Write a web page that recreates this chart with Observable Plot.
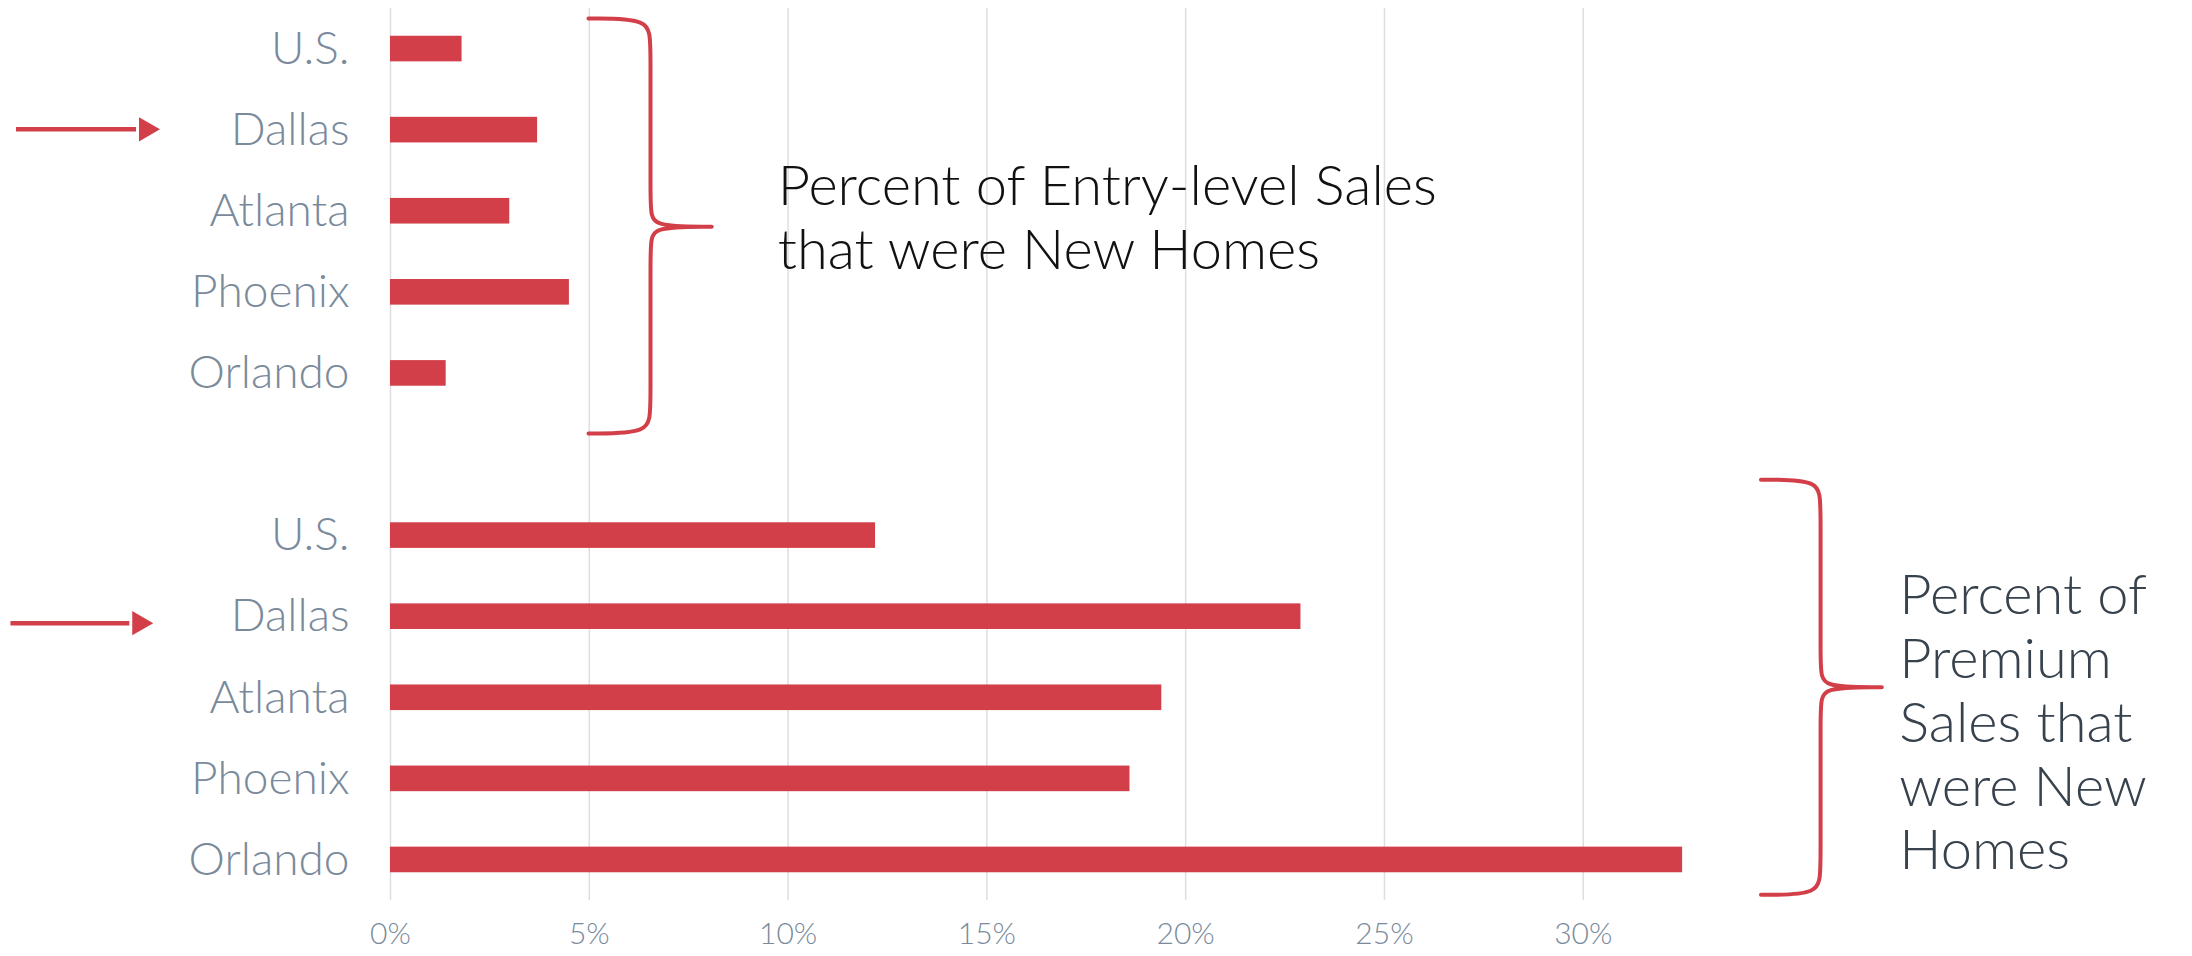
<!DOCTYPE html>
<html>
<head>
<meta charset="utf-8">
<script src="https://cdn.jsdelivr.net/npm/d3@7"></script>
<script src="https://cdn.jsdelivr.net/npm/@observablehq/plot@0.6"></script>
<style>
  html, body { margin: 0; padding: 0; background: #ffffff; }
  #chart svg { display: block; }
</style>
</head>
<body>
<div id="chart"></div>
<script>
// ---- data ----
const cities = ["U.S.", "Dallas", "Atlanta", "Phoenix", "Orlando"];
const entryLevel = [1.8, 3.7, 3.0, 4.5, 1.4];     // % of entry-level sales that were new homes
const premium = [12.2, 22.9, 19.4, 18.6, 32.5];   // % of premium sales that were new homes
const xTicks = [0, 5, 10, 15, 20, 25, 30];
const highlightCity = "Dallas";
const entryNote = "Percent of Entry-level Sales\nthat were New Homes";
const premiumNote = "Percent of\nPremium\nSales that\nwere New\nHomes";

// rows: entry-level group in slots 0-4, gap slot 5, premium group in slots 6-10
const entryStart = 0, premiumStart = 6;
const rows = [
  ...cities.map((c, i) => ({city: c, group: "entry", pos: entryStart + i, value: entryLevel[i]})),
  ...cities.map((c, i) => ({city: c, group: "premium", pos: premiumStart + i, value: premium[i]}))
];
const labelAt = new Map(rows.map(d => [d.pos, d.city]));

// ---- annotation geometry (data coordinates: x in %, y in row slots) ----
const RED = "#d33f49";
const half = 0.158; // half bar thickness in slot units
function brace(xEnd, xSpine, xTip, yTop, yMid, yBot, id) {
  const pts = [
    [xEnd, yTop], [xSpine, yTop], [xSpine, yTop + 0.3],
    [xSpine, yMid - 0.22], [xSpine, yMid], [xTip, yMid], [xTip, yMid], [xTip, yMid],
    [xSpine, yMid], [xSpine, yMid + 0.22],
    [xSpine, yBot - 0.3], [xSpine, yBot], [xEnd, yBot]
  ];
  return pts.map(([x, y]) => ({x, y, id}));
}
const braces = [
  ...brace(4.98, 6.54, 8.08, -0.377, 2.19, 4.74, "entry"),
  ...brace(34.47, 35.97, 37.51, 5.31, 7.87, 10.43, "premium")
];
const arrows = [
  {x1: -9.42, x2: -6.4, head: -6.15, y: 0.99},
  {x1: -9.56, x2: -6.57, head: -6.32, y: 7.08}
];
const notes = [
  {x: 9.74, y: 2.07, text: entryNote, fill: "#111111"},
  {x: 37.95, y: 8.29, text: premiumNote, fill: "#37424d"}
];

const labelColor = "#7a8a9b";

const chart = Plot.plot({
  width: 2192,
  height: 956,
  marginLeft: 390,
  marginRight: 490,
  marginTop: 8,
  marginBottom: 56,
  style: {fontFamily: "Lato, 'Open Sans', sans-serif", background: "#ffffff"},
  x: {domain: [0, 33]},
  y: {domain: [-0.5, 10.5], reverse: true},
  marks: [
    Plot.gridX(xTicks, {stroke: "#dedede", strokeOpacity: 1, strokeWidth: 1.5}),
    Plot.rectX(rows, {
      x1: 0, x2: "value",
      y1: d => d.pos - half, y2: d => d.pos + half,
      fill: RED
    }),
    Plot.line(braces, {x: "x", y: "y", z: "id", curve: "basis", stroke: RED, strokeWidth: 4, strokeLinecap: "round"}),
    Plot.link(arrows, {x1: "x1", x2: "x2", y1: "y", y2: "y", stroke: RED, strokeWidth: 4.5}),
    Plot.dot(arrows, {x: "head", y: "y", symbol: "triangle", rotate: 90, r: 9, fill: RED, stroke: "none"}),
    Plot.text(notes, {
      x: "x", y: "y", text: "text", fill: "fill",
      textAnchor: "start", lineAnchor: "middle",
      fontSize: 56, lineHeight: 1.14, fontWeight: 300
    }),
    Plot.axisX({
      ticks: xTicks, tickFormat: d => d + "%", tickSize: 0, tickPadding: 22,
      fontSize: 30, fontWeight: 300, color: labelColor, fill: labelColor, label: null
    }),
    Plot.axisY({
      ticks: [...labelAt.keys()], tickFormat: p => labelAt.get(p), tickSize: 0, tickPadding: 41,
      fontSize: 46, fontWeight: 300, color: labelColor, fill: labelColor, label: null
    })
  ]
});
document.getElementById("chart").appendChild(chart);
</script>
</body>
</html>
